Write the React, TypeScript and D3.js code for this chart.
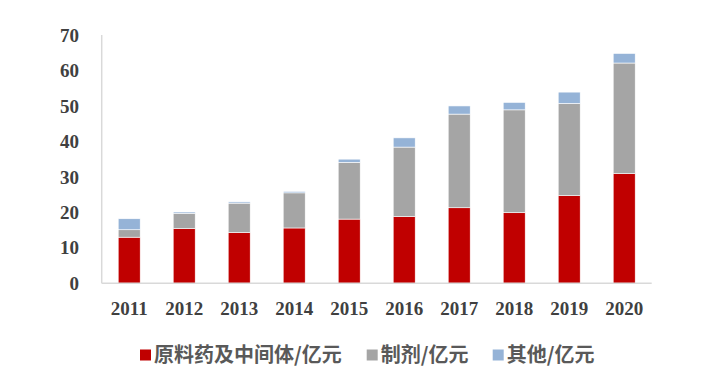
import React from "react";
import * as d3 from "d3";

const years = ["2011", "2012", "2013", "2014", "2015", "2016", "2017", "2018", "2019", "2020"];
const apiValues = [13.0, 15.4, 14.3, 15.6, 18.1, 18.8, 21.3, 19.9, 24.7, 30.9];
const prepValues = [2.1, 4.35, 8.3, 9.9, 16.0, 19.6, 26.4, 29.0, 26.0, 31.2];
const otherValues = [3.1, 0.35, 0.35, 0.4, 0.9, 2.6, 2.3, 2.1, 3.2, 2.7];
const seriesNames = ["原料药及中间体/亿元", "制剂/亿元", "其他/亿元"];
const seriesColors = ["#C00000", "#A5A5A5", "#95B3D7"];
const yTicks = [0, 10, 20, 30, 40, 50, 60, 70];

export default function App() {
  const width = 709;
  const height = 391;
  const x0 = 101.7, x1 = 651.7, yTop = 35, yBottom = 283.3;

  const x = d3.scaleBand<string>().domain(years).range([x0, x1]).paddingInner(0.6).paddingOuter(0.3);
  const y = d3.scaleLinear().domain([0, 70]).range([yBottom, yTop]);

  const table = years.map((yr, i) => ({ year: yr, a: apiValues[i], b: prepValues[i], c: otherValues[i] }));
  const stack = d3.stack<any>().keys(["a", "b", "c"])(table);

  const legendX = [140, 366.7, 492.7];

  return (
    <svg width={width} height={height} style={{ position: "absolute", left: 0, top: 0 }}>
      <rect width={width} height={height} fill="#fff" />
      {stack.map((layer, si) => (
        <g key={si}>
          {layer.map((d, i) => (
            <rect
              key={i}
              x={x(years[i])}
              width={x.bandwidth()}
              y={y(d[1])}
              height={Math.max(0, y(d[0]) - y(d[1]))}
              fill={seriesColors[si]}
              stroke="#ffffff"
              strokeWidth={0.6}
            />
          ))}
        </g>
      ))}
      <line x1={x0} x2={x0} y1={yTop} y2={yBottom} stroke="#D9D9D9" strokeWidth={1.5} />
      <line x1={x0} x2={x1} y1={yBottom} y2={yBottom} stroke="#D9D9D9" strokeWidth={1.5} />
      {yTicks.map((t) => (
        <text
          key={t}
          x={79}
          y={y(t)}
          dy="0.35em"
          textAnchor="end"
          fontFamily="'Liberation Serif', 'Times New Roman', serif"
          fontWeight="bold"
          fontSize={19}
          fill="#404040"
        >
          {t}
        </text>
      ))}
      {years.map((yr) => (
        <text
          key={yr}
          x={(x(yr) as number) + x.bandwidth() / 2}
          y={308}
          dy="0.35em"
          textAnchor="middle"
          fontFamily="'Liberation Serif', 'Times New Roman', serif"
          fontWeight="bold"
          fontSize={19}
          fill="#404040"
        >
          {yr}
        </text>
      ))}
      {seriesNames.map((name, i) => (
        <g key={name}>
          <rect x={legendX[i]} y={349.5} width={11} height={11} fill={seriesColors[i]} />
          <text
            x={legendX[i] + 14}
            y={355}
            dy="0.36em"
            fontFamily="'Noto Sans CJK SC', sans-serif"
            fontWeight="bold"
            fontSize={20}
            fill="#595959"
          >
            {name}
          </text>
        </g>
      ))}
    </svg>
  );
}
